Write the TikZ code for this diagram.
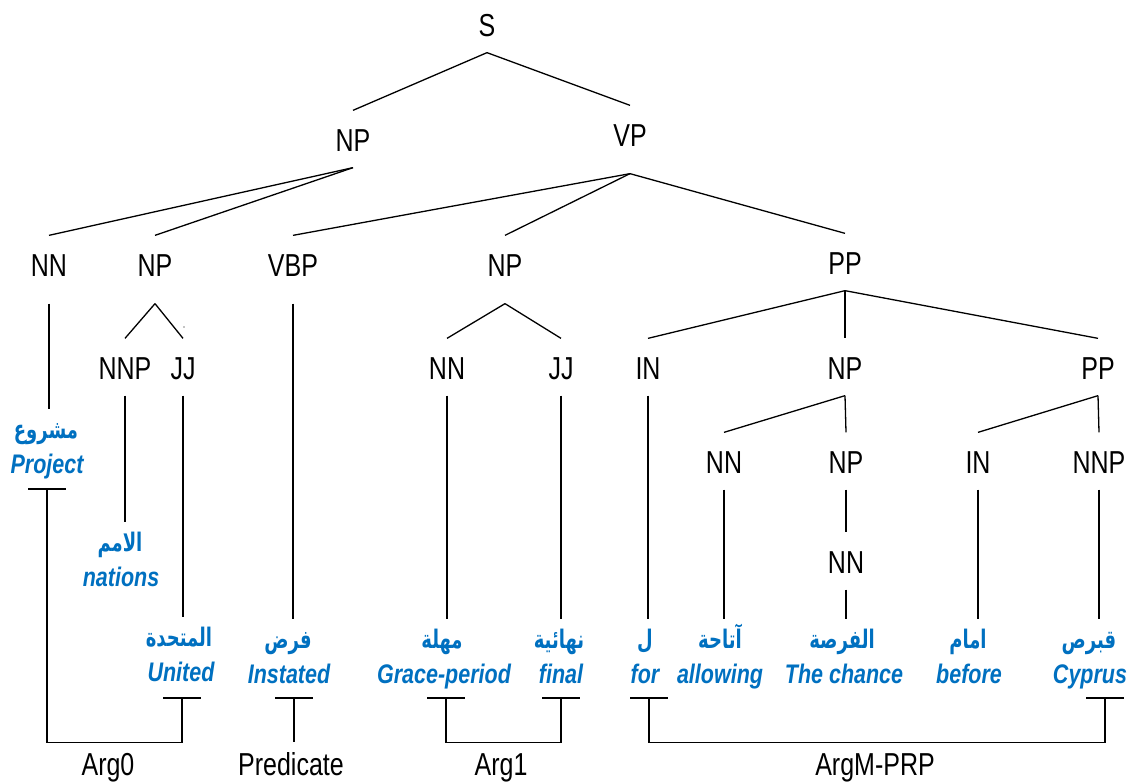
\documentclass[tikz,border=0pt]{standalone}
\usepackage{fontspec}
\setmainfont{Liberation Sans}
\newfontfamily\arabicfont[Script=Arabic]{DejaVu Sans}
\TeXXeTstate=1
\definecolor{wordblue}{HTML}{0070C0}
% vertically stretched text, as in the drawing
\newcommand{\tagtxt}[1]{\scalebox{1}[1.27]{#1}}
\newcommand{\entxt}[1]{\scalebox{1}[1.25]{#1}}
\newcommand{\artxt}[1]{\scalebox{1}[1.42]{\beginR #1\endR}}

\begin{document}
\begin{tikzpicture}[x=1pt,y=-1pt,
  every path/.style={line width=1.3pt},
  tag/.style={inner sep=0pt, anchor=base, text height=40.5pt, text depth=15.5pt,
              font=\fontsize{25}{30}\selectfont},
  role/.style={inner sep=0pt, anchor=base, text height=32pt, text depth=0pt,
              font=\fontsize{25}{30}\selectfont},
  ar/.style={inner sep=0pt, anchor=base, text height=28pt, text depth=0pt,
              text=wordblue, font=\fontsize{18}{22}\arabicfont\bfseries},
  en/.style={inner sep=0pt, anchor=base, text height=20pt, text depth=15pt,
              text=wordblue, font=\fontsize{21.5}{26}\selectfont\bfseries\itshape},
]
\useasboundingbox (0,0) rectangle (1131,781);

% ---- syntactic categories ----
\node[tag] (s)    at (487,36.5)  {\tagtxt{S}};
\node[tag] (np1)  at (353,151.5) {\tagtxt{NP}};
\node[tag] (vp)   at (630,146.5) {\tagtxt{VP}};
\node[tag] (nn1)  at (49,276.5)  {\tagtxt{NN}};
\node[tag] (np2)  at (155,276.5) {\tagtxt{NP}};
\node[tag] (vbp)  at (293,276.5) {\tagtxt{VBP}};
\node[tag] (np3)  at (505,276.5) {\tagtxt{NP}};
\node[tag] (pp1)  at (845,274.5) {\tagtxt{PP}};
\node[tag] (nnp1) at (125,379.5) {\tagtxt{NNP}};
\node[tag] (jj1)  at (183,379.5) {\tagtxt{JJ}};
\node[tag] (nn3)  at (447,379.5) {\tagtxt{NN}};
\node[tag] (jj3)  at (561,379.5) {\tagtxt{JJ}};
\node[tag] (in1)  at (648,379.5) {\tagtxt{IN}};
\node[tag] (np4)  at (845,379.5) {\tagtxt{NP}};
\node[tag] (pp2)  at (1098,379.5){\tagtxt{PP}};
\node[tag] (nn4)  at (724,473.5) {\tagtxt{NN}};
\node[tag] (np5)  at (846,473.5) {\tagtxt{NP}};
\node[tag] (in2)  at (978,473.5) {\tagtxt{IN}};
\node[tag] (nnp2) at (1099,473.5){\tagtxt{NNP}};
\node[tag] (nn5)  at (846,573.5) {\tagtxt{NN}};

% ---- words: Arabic above, English gloss below ----
\node[ar] (a1)  at (46,438)   {\artxt{مشروع}};
\node[en] (e1)  at (47,473)   {\entxt{Project}};
\node[ar] (a2)  at (120,551)  {\artxt{الامم}};
\node[en] (e2)  at (121,586)  {\entxt{nations}};
\node[ar] (a3)  at (179,646)  {\artxt{المتحدة}};
\node[en] (e3)  at (181,681)  {\entxt{United}};
\node[ar] (a4)  at (288,648)  {\artxt{فرض}};
\node[en] (e4)  at (289,683)  {\entxt{Instated}};
\node[ar] (a5)  at (442,648)  {\artxt{مهلة}};
\node[en] (e5)  at (444,683)  {\entxt{Grace-period}};
\node[ar] (a6)  at (559,648)  {\artxt{نهائية}};
\node[en] (e6)  at (561,683)  {\entxt{final}};
\node[ar] (a7)  at (645,648)  {\artxt{ل}};
\node[en] (e7)  at (645,683)  {\entxt{for}};
\node[ar] (a8)  at (720,648)  {\artxt{آتاحة}};
\node[en] (e8)  at (720,683)  {\entxt{allowing}};
\node[ar] (a9)  at (842,648)  {\artxt{الفرصة}};
\node[en] (e9)  at (844,683)  {\entxt{The chance}};
\node[ar] (a10) at (968,648)  {\artxt{امام}};
\node[en] (e10) at (969,683)  {\entxt{before}};
\node[ar] (a11) at (1089,648) {\artxt{قبرص}};
\node[en] (e11) at (1090,683) {\entxt{Cyprus}};

% ---- semantic roles ----
\node[role] (arg0) at (108,775) {\tagtxt{Arg0}};
\node[role] (pred) at (291,775) {\tagtxt{Predicate}};
\node[role] (arg1) at (501,775) {\tagtxt{Arg1}};
\node[role] (argm) at (875,775) {\tagtxt{ArgM-PRP}};

% ---- tree branches ----
\draw (s.south) -- (np1.north);
\draw (s.south) -- (vp.north);
\draw (np1.south) -- (nn1.north);
\draw (np1.south) -- (np2.north);
\draw ([yshift=-11pt]vp.south) -- (vbp.north);
\draw ([yshift=-11pt]vp.south) -- (np3.north);
\draw ([yshift=-11pt]vp.south) -- (pp1.north);
\draw ([yshift=-11pt]np2.south) -- (nnp1.north);
\draw ([yshift=-11pt]np2.south) -- (jj1.north);
\draw ([yshift=-11pt]np3.south) -- (nn3.north);
\draw ([yshift=-11pt]np3.south) -- (jj3.north);
\draw (pp1.south) -- (in1.north);
\draw (pp1.south) -- (np4.north);
\draw (pp1.south) -- (pp2.north);
\draw (np4.south) -- (nn4.north);
\draw (np4.south) -- (np5.north);
\draw (pp2.south) -- (in2.north);
\draw (pp2.south) -- (nnp2.north);
\draw (np5.south) -- (nn5.north);
\fill (184,327) circle (0.7pt);

% ---- lexical attachments ----
\draw ([yshift=-11pt]nn1.south)  -- (nn1.south |- a1.north);
\draw ([yshift=-11pt]vbp.south)  -- (vbp.south |- a4.north);
\draw (nnp1.south) -- (nnp1.south |- a2.north);
\draw (jj1.south)  -- (jj1.south |- a3.north);
\draw (nn3.south)  -- (nn3.south |- a5.north);
\draw (jj3.south)  -- (jj3.south |- a6.north);
\draw (in1.south)  -- (in1.south |- a7.north);
\draw (nn4.south)  -- (nn4.south |- a8.north);
\draw (nn5.south)  -- (nn5.south |- a9.north);
\draw (in2.south)  -- (in2.south |- a10.north);
\draw (nnp2.south) -- (nnp2.south |- a11.north);

% ---- role brackets ----
\coordinate (b1) at (47,489);
\coordinate (b2) at (182,698);
\coordinate (b3) at (294,698);
\coordinate (b4) at (446,698);
\coordinate (b5) at (561,698);
\coordinate (b6) at (649,698);
\coordinate (b7) at (1105,698);
\foreach \b in {b1,b2,b3,b4,b5,b6,b7}
  \draw ([xshift=-19pt]\b) -- ([xshift=19pt]\b);
\draw (b1) |- (arg0.north) -| (b2);
\draw (b3) -- (b3 |- pred.north);
\draw (b4) |- (arg1.north) -| (b5);
\draw (b6) |- (argm.north) -| (b7);
\end{tikzpicture}
\end{document}
